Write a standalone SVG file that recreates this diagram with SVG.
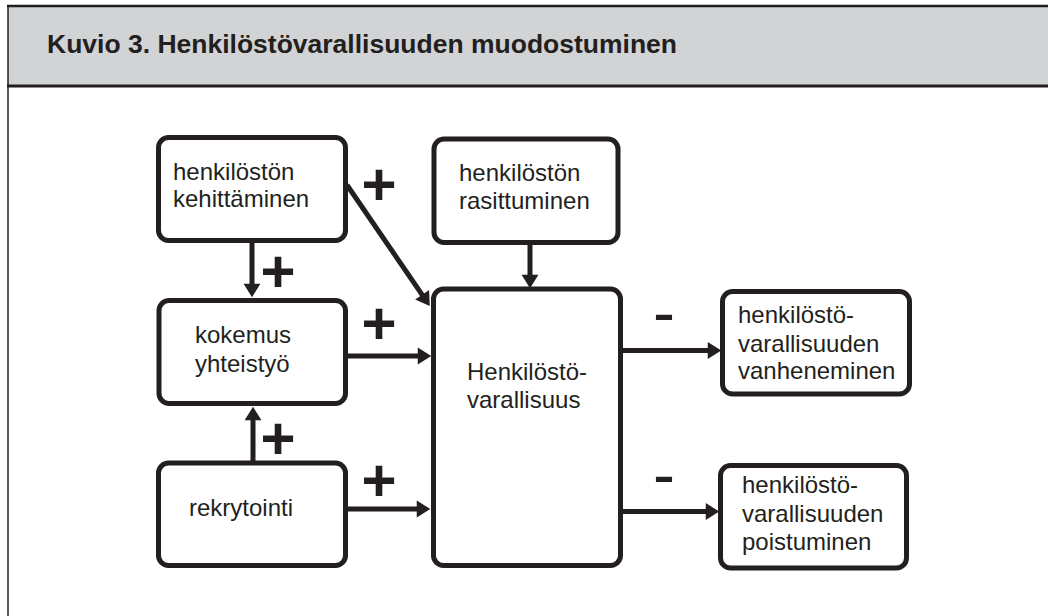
<svg xmlns="http://www.w3.org/2000/svg" width="1048" height="616" viewBox="0 0 1048 616">
  <style>
    .box { fill: #ffffff; stroke: #231f20; stroke-width: 5; }
    .lbl { font-family: "Liberation Sans", Arial, sans-serif; font-size: 24px; fill: #231f20; }
    .plus { font-family: "Liberation Sans", Arial, sans-serif; font-size: 60px; font-weight: bold; fill: #231f20; text-anchor: middle; }
    .minus { font-family: "Liberation Sans", Arial, sans-serif; font-size: 66px; fill: #231f20; text-anchor: middle; }
    .conn { stroke: #231f20; stroke-width: 5; fill: none; marker-end: url(#head); }
    .title { font-family: "Liberation Sans", Arial, sans-serif; font-size: 26px; font-weight: bold; fill: #231f20; }
  </style>
  <defs>
    <marker id="head" markerUnits="userSpaceOnUse" markerWidth="16" markerHeight="18" viewBox="0 -8 13 16" refX="2" refY="0" orient="auto">
      <path d="M0,-7.5 L12,0 L0,7.5 z" fill="#231f20"/>
    </marker>
  </defs>

  <rect width="1048" height="616" fill="#ffffff"/>

  <!-- title band and frame -->
  <g id="frame">
    <rect x="8" y="6" width="1045" height="80" fill="#d1d3d4"/>
    <line x1="7" y1="6" x2="1048" y2="6" stroke="#231f20" stroke-width="2.5"/>
    <line x1="7" y1="86" x2="1048" y2="86" stroke="#231f20" stroke-width="3"/>
    <line x1="8" y1="5" x2="8" y2="616" stroke="#231f20" stroke-width="1.5"/>
    <text class="title" x="47" y="53" textLength="630" lengthAdjust="spacingAndGlyphs">Kuvio 3.  Henkilöstövarallisuuden muodostuminen</text>
  </g>

  <!-- connectors -->
  <g id="connectors">
    <line class="conn" x1="252" y1="243" x2="252" y2="286"/>
    <line class="conn" x1="530" y1="245" x2="530" y2="277"/>
    <line class="conn" x1="347" y1="185" x2="423.4" y2="296.7"/>
    <line class="conn" x1="348" y1="356" x2="420" y2="356"/>
    <line class="conn" x1="253" y1="461" x2="253" y2="418"/>
    <line class="conn" x1="348" y1="509" x2="419" y2="509"/>
    <line class="conn" x1="623" y1="350.5" x2="710" y2="350.5"/>
    <line class="conn" x1="623" y1="511.5" x2="708" y2="511.5"/>

    <text class="plus" x="379" y="205">+</text>
    <text class="plus" x="278" y="291.5">+</text>
    <text class="plus" x="379" y="344">+</text>
    <text class="plus" x="278" y="459">+</text>
    <text class="plus" x="379" y="500.5">+</text>
    <text class="minus" x="664" y="335">-</text>
    <text class="minus" x="664" y="497">-</text>
  </g>

  <g id="kehittaminen">
    <rect class="box" x="158.5" y="137.5" width="187" height="103" rx="10"/>
    <text class="lbl" x="173" y="180">henkilöstön</text>
    <text class="lbl" x="173" y="207">kehittäminen</text>
  </g>

  <g id="rasittuminen">
    <rect class="box" x="434" y="139" width="184" height="103.5" rx="10"/>
    <text class="lbl" x="459" y="181">henkilöstön</text>
    <text class="lbl" x="459" y="209">rasittuminen</text>
  </g>

  <g id="kokemus">
    <rect class="box" x="159" y="300.5" width="186.5" height="103" rx="10"/>
    <text class="lbl" x="195" y="343">kokemus</text>
    <text class="lbl" x="195" y="372">yhteistyö</text>
  </g>

  <g id="rekrytointi">
    <rect class="box" x="158.5" y="463" width="187" height="102.5" rx="10"/>
    <text class="lbl" x="189" y="516">rekrytointi</text>
  </g>

  <g id="varallisuus">
    <rect class="box" x="433.5" y="289" width="187" height="276.5" rx="10"/>
    <text class="lbl" x="467" y="380">Henkilöstö-</text>
    <text class="lbl" x="467" y="408">varallisuus</text>
  </g>

  <g id="vanheneminen">
    <rect class="box" x="722.5" y="291.5" width="187" height="102.5" rx="10"/>
    <text class="lbl" x="738" y="323">henkilöstö-</text>
    <text class="lbl" x="738" y="352">varallisuuden</text>
    <text class="lbl" x="738" y="379">vanheneminen</text>
  </g>

  <g id="poistuminen">
    <rect class="box" x="720.5" y="465.5" width="186" height="102.5" rx="10"/>
    <text class="lbl" x="742" y="493">henkilöstö-</text>
    <text class="lbl" x="742" y="522">varallisuuden</text>
    <text class="lbl" x="742" y="550">poistuminen</text>
  </g>
</svg>
